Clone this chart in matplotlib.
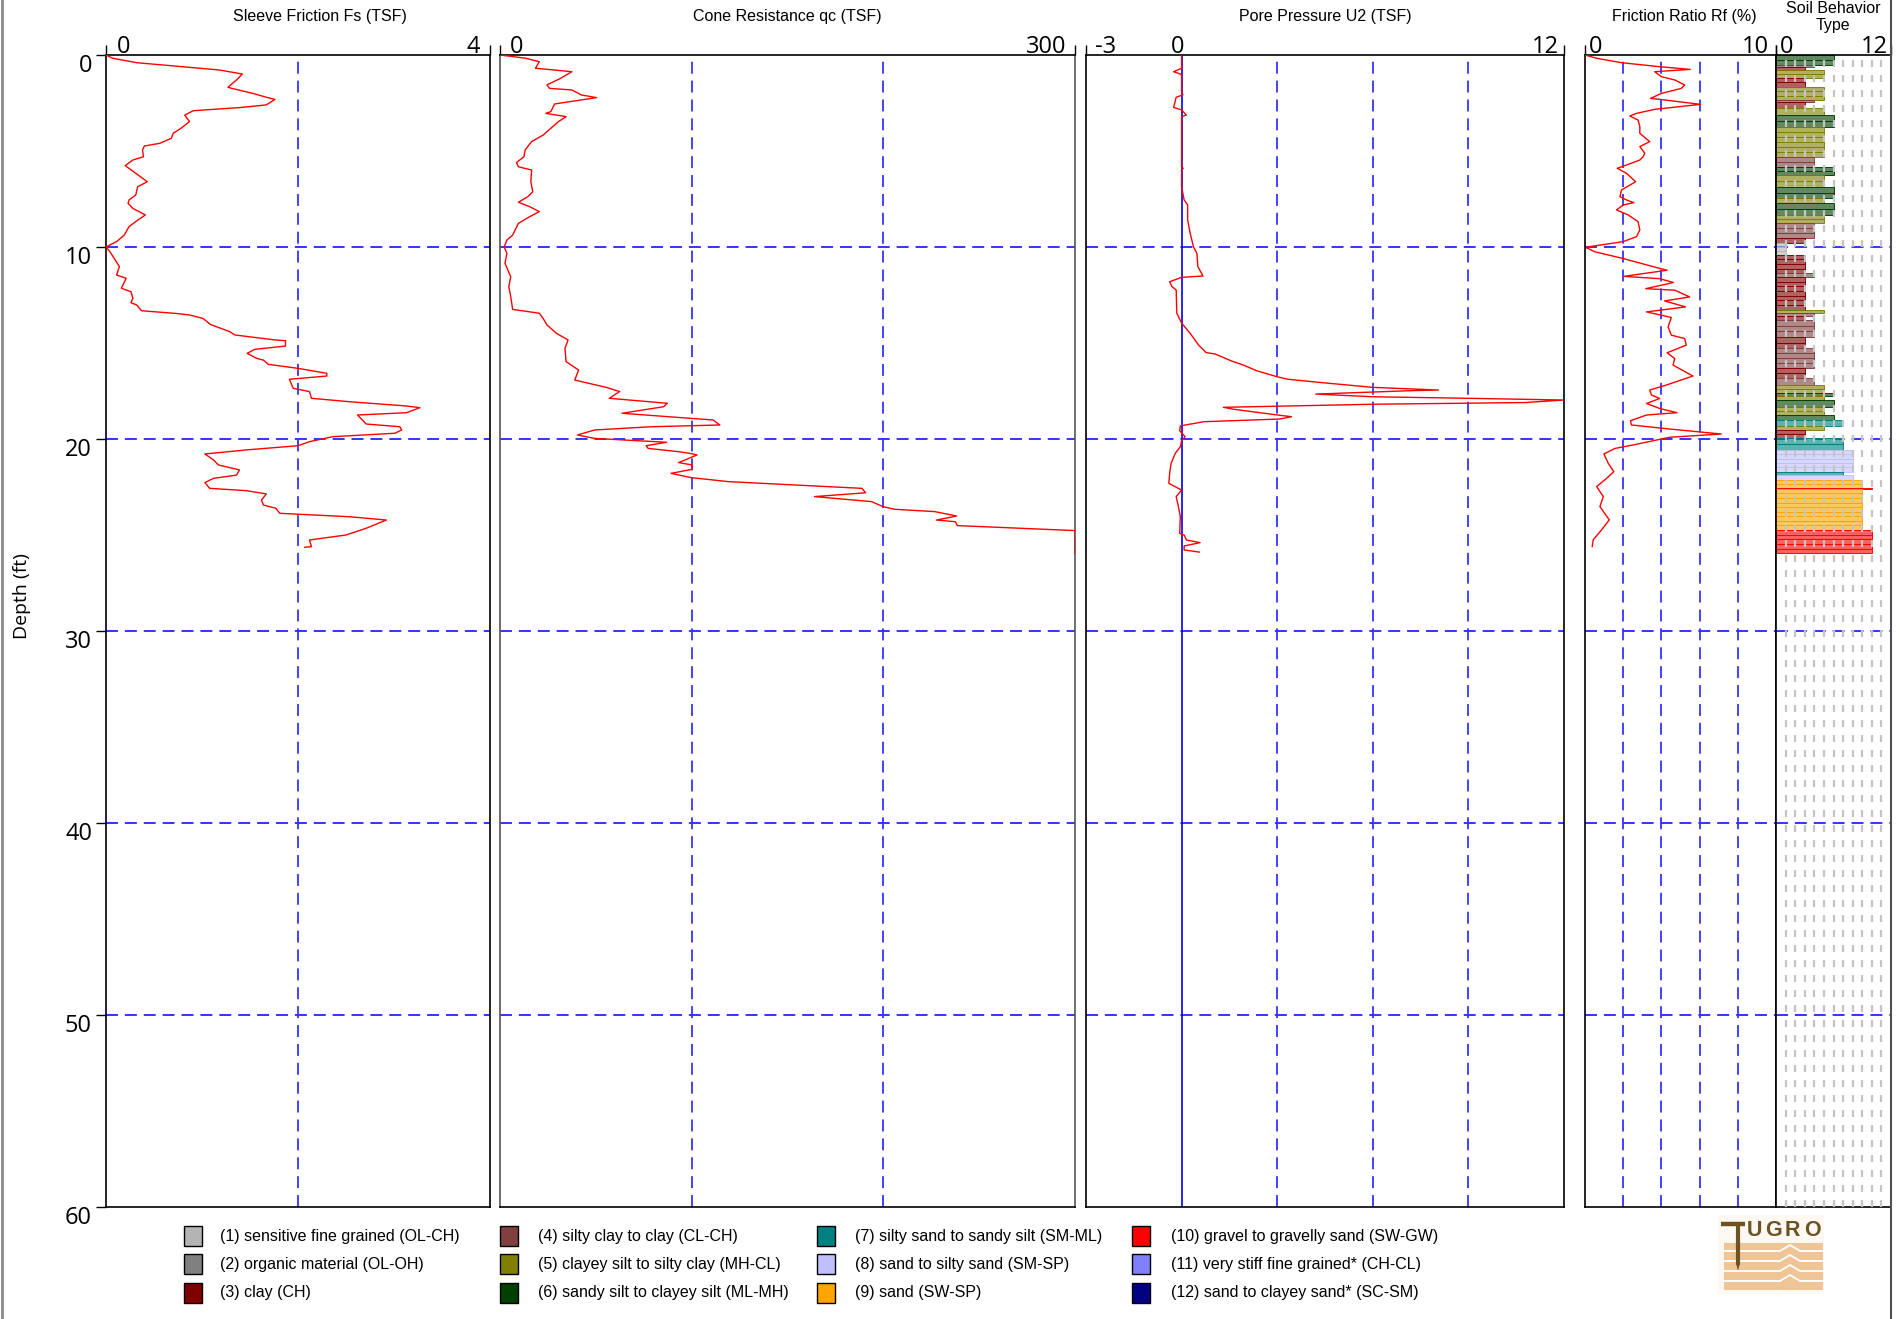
import numpy as np
import matplotlib
matplotlib.use("Agg")
import matplotlib.pyplot as plt
from matplotlib.colors import to_rgba
from matplotlib.lines import Line2D
from matplotlib.patches import Rectangle, Polygon
from matplotlib.transforms import ScaledTranslation

plt.rcParams['lines.scale_dashes'] = False

# ---------------------------------------------------------------- data
# Sleeve friction fs (TSF) vs depth (ft)
fs_depth = [0.00, 0.17, 0.40, 0.78, 0.99, 1.30, 1.68, 1.75, 2.00, 2.20, 2.31, 2.60, 2.74, 2.90,
            3.13, 3.47, 3.82, 4.08, 4.34, 4.60, 4.74, 4.95, 5.30, 5.47, 5.76, 6.16, 6.60, 6.86,
            7.29, 7.55, 7.73, 7.99, 8.33, 8.60, 8.94, 9.38, 9.72, 10.00, 10.24, 11.02, 11.46,
            11.63, 12.15, 12.33, 12.67, 12.90, 13.02, 13.32, 13.46, 13.54, 13.72, 14.04, 14.41,
            14.58, 14.84, 14.88, 15.16, 15.33, 15.54, 15.80, 15.89, 16.11, 16.32, 16.58, 16.72,
            16.89, 17.36, 17.53, 17.88, 18.06, 18.28, 18.37, 18.63, 18.75, 19.22, 19.36, 19.53,
            19.70, 19.88, 20.14, 20.35, 20.57, 20.78, 21.09, 21.35, 21.61, 21.88, 22.05, 22.27,
            22.57, 22.69, 22.86, 23.18, 23.44, 23.61, 23.87, 24.05, 24.22, 24.65, 25.00, 25.26,
            25.61, 25.64]
fs_value = [0.00, 0.07, 0.32, 1.18, 1.42, 1.36, 1.27, 1.32, 1.53, 1.67, 1.76, 1.67, 1.39, 0.91,
            0.82, 0.87, 0.78, 0.70, 0.68, 0.56, 0.40, 0.38, 0.39, 0.28, 0.20, 0.31, 0.43, 0.33,
            0.31, 0.24, 0.23, 0.28, 0.41, 0.33, 0.24, 0.19, 0.11, 0.00, 0.04, 0.14, 0.11,
            0.21, 0.16, 0.26, 0.28, 0.26, 0.32, 0.37, 0.73, 0.87, 1.01, 1.09, 1.29,
            1.34, 1.76, 1.87, 1.87, 1.55, 1.47, 1.57, 1.64, 1.69, 2.00, 2.30, 2.30,
            1.91, 1.95, 2.12, 2.14, 2.54, 3.13, 3.27, 3.13, 2.62, 2.71, 3.06, 3.08,
            3.01, 2.36, 2.12, 2.00, 1.46, 1.03, 1.12, 1.17, 1.39, 1.36, 1.12, 1.03,
            1.08, 1.46, 1.67, 1.62, 1.64, 1.77, 1.81, 2.54, 2.92, 2.71, 2.50, 2.12,
            2.14, 2.07]

# Cone resistance qc (TSF) vs depth (ft)
qc_depth = [0.00, 0.17, 0.35, 0.69, 0.87, 1.22, 1.56, 1.74, 1.82, 2.08, 2.22, 2.34, 2.55, 2.95,
            3.04, 3.21, 3.47, 3.82, 4.17, 4.51, 4.95, 5.30, 5.60, 5.82, 5.99, 6.60, 7.12, 7.38,
            7.67, 7.90, 8.16, 8.42, 8.77, 9.38, 9.64, 10.00, 10.33, 10.85, 11.55, 12.07, 12.59,
            13.25, 13.45, 13.72, 14.06, 14.50, 14.84, 15.28, 15.97, 16.41, 16.93, 17.31, 17.53,
            17.88, 18.14, 18.32, 18.66, 19.01, 19.27, 19.36, 19.53, 19.79, 19.97, 20.17, 20.35,
            20.49, 20.66, 20.75, 20.83, 21.23, 21.35, 21.58, 21.79, 22.01, 22.22, 22.57, 22.80,
            23.00, 23.26, 23.52, 23.66, 23.78, 24.01, 24.22, 24.31, 24.51, 24.77, 25.10, 25.50,
            25.95]
qc_value = [0.0, 13.5, 20.5, 18.5, 37.5, 31.5, 24.5, 25.9, 37.5, 42.4, 50.4, 42.4, 28.5, 26.5,
            23.9, 34.5, 30.5, 26.5, 22.5, 16.5, 13.1, 12.5, 8.6, 9.6, 16.5, 16.1, 17.1, 14.5,
            9.6, 15.5, 20.5, 15.5, 9.6, 6.6, 3.6, 2.2, 3.6, 2.6, 5.6, 4.6, 5.6,
            6.6, 20.5, 22.5, 24.5, 29.5, 35.5, 33.9, 34.5, 41.0, 39.0, 55.4, 62.4,
            57.0, 87.3, 85.3, 63.7, 111.2, 114.7, 79.3, 49.4, 40.4, 49.4, 86.9, 76.3,
            77.3, 93.2, 99.2, 102.8, 93.2, 100.2, 100.2, 89.2, 99.6, 119.1, 188.8, 190.8,
            164.1, 193.8, 199.8, 205.8, 226.7, 238.2, 227.7, 237.6, 238.6, 300.0, 325.0, 340.0,
            330.0]

# Pore pressure u2 (TSF) vs depth (ft)
u2_depth = [0.00, 0.69, 0.87, 0.99, 1.05, 1.91, 2.08, 2.20, 2.73, 2.86, 3.13, 3.21, 5.82, 5.90,
            5.99, 6.86, 7.55, 7.81, 8.59, 9.29, 10.00, 10.33, 11.02, 11.51, 11.58, 11.81, 12.07,
            12.24, 13.45, 13.96, 14.50, 15.10, 15.50, 15.57, 15.94, 16.15, 16.44, 16.75, 16.89,
            17.07, 17.31, 17.45, 17.48, 17.66, 17.80, 17.88, 17.97, 18.10, 18.19, 18.35, 18.45,
            18.75, 18.84, 18.96, 19.10, 19.32, 19.57, 19.88, 20.09, 20.40, 20.75, 21.27, 21.79,
            22.31, 22.66, 23.00, 23.52, 24.05, 24.91, 25.00, 25.26, 25.40, 25.57, 25.78, 25.89]
u2_value = [0.00, 0.00, -0.25, -0.04, 0.00, 0.00, 0.04, -0.17, -0.25, 0.00, 0.15, 0.00, 0.00, 0.05,
            0.00, 0.00, 0.08, 0.19, 0.19, 0.27, 0.375, 0.48, 0.51, 0.67, 0.00, -0.375, -0.30,
            -0.17, -0.15, 0.00, 0.27, 0.53, 0.77, 1.05, 1.57, 1.94, 2.35, 2.98, 3.34,
            4.44, 6.00, 8.06, 7.25, 4.21, 6.00, 9.00, 12.60, 10.79, 6.00, 1.31, 1.63,
            3.01, 3.45, 3.08, 0.69, -0.04, -0.06, 0.11, 0.00, -0.04, -0.20, -0.33, -0.375,
            -0.40, 0.00, -0.17, -0.10, -0.04, -0.06, 0.08, 0.15, 0.58, 0.08, 0.08, 0.56]

# Friction ratio Rf (%) vs depth (ft)
rf_depth = [0.00, 0.17, 0.40, 0.61, 0.75, 0.87, 1.13, 1.30, 1.56, 1.74, 2.00, 2.26, 2.31, 2.57,
            2.83, 3.04, 3.18, 3.39, 3.73, 4.08, 4.51, 4.77, 5.12, 5.30, 5.47, 5.73, 5.90, 6.16,
            6.60, 7.03, 7.38, 7.55, 7.69, 7.81, 8.07, 8.33, 8.68, 9.11, 9.46, 9.72, 9.98, 10.03,
            10.25, 10.60, 11.07, 11.21, 11.53, 11.65, 11.85, 12.17, 12.25, 12.60, 12.81, 13.12,
            13.38, 13.67, 14.16, 14.59, 14.77, 15.11, 15.51, 15.81, 16.15, 16.72, 17.19, 17.45,
            17.71, 17.89, 18.15, 18.41, 18.63, 18.75, 19.05, 19.27, 19.48, 19.74, 19.91, 20.31,
            20.49, 20.78, 21.27, 21.70, 22.05, 22.48, 23.00, 23.52, 24.21, 24.73, 25.25, 25.60]
rf_value = [0.00, 0.61, 1.91, 3.91, 5.51, 3.65, 4.00, 4.70, 5.22, 5.04, 4.00, 3.43, 3.91, 6.05,
            3.65, 2.70, 2.35, 2.78, 2.87, 2.87, 3.39, 2.87, 3.13, 3.04, 2.87, 2.17, 1.69, 2.17,
            2.65, 1.91, 1.83, 2.17, 2.56, 2.00, 1.65, 2.26, 2.78, 2.87, 2.70, 2.00, 0.26, 0.05,
            0.52, 2.00, 3.74, 4.30, 2.03, 3.91, 4.63, 3.18, 4.70, 5.48, 4.17, 5.27,
            3.22, 4.52, 4.35, 4.52, 5.22, 5.30, 4.30, 4.70, 4.61, 5.65, 4.26, 3.39,
            3.48, 3.91, 3.22, 3.91, 4.82, 3.22, 2.38, 2.43, 4.43, 7.13, 4.43, 2.52,
            1.57, 0.99, 1.22, 1.51, 1.13, 0.61, 0.96, 0.78, 1.27, 0.87, 0.43, 0.38]

# Soil behaviour type zones by depth interval (ft)
sbt_top = [0.00, 0.50, 0.60, 0.78, 1.20, 1.65, 2.35, 2.45, 2.78, 3.13, 3.73, 5.30, 5.82, 6.25,
           6.86, 7.47, 7.73, 8.33, 8.77, 9.55, 9.77, 10.40, 11.37, 11.55, 13.28, 13.45, 13.60,
           13.80, 14.67, 15.28, 16.32, 16.84, 17.19, 17.60, 17.75, 17.97, 18.32, 18.75, 19.01,
           19.30, 19.53, 19.97, 20.57, 21.70, 21.87, 22.13, 22.55, 22.60, 24.73]
sbt_bot = [0.50, 0.60, 0.78, 1.20, 1.65, 2.35, 2.45, 2.78, 3.13, 3.73, 5.30, 5.82, 6.25, 6.86,
           7.47, 7.73, 8.33, 8.77, 9.55, 9.77, 10.40, 11.37, 11.55, 13.28, 13.45, 13.60, 13.80,
           14.67, 15.28, 16.32, 16.84, 17.19, 17.60, 17.75, 17.97, 18.32, 18.75, 19.01, 19.30,
           19.53, 19.97, 20.57, 21.70, 21.87, 22.13, 22.55, 22.60, 24.73, 25.95]
sbt_zone = [6, 4, 3, 5, 3, 5, 4, 3, 5, 6, 5, 4, 6, 5,
            6, 5, 6, 5, 4, 3, 1, 3, 4, 3, 5, 4, 3,
            4, 3, 4, 3, 4, 5, 6, 5, 6, 5, 6, 7,
            5, 3, 7, 8, 7, 8, 9, 10, 9, 10]

zone_colors = ['#b4b4b4', '#808080', '#800000', '#804040', '#808000', '#004000',
               '#008080', '#c0c0ff', '#ffa500', '#ff0000', '#8080ff', '#000080']
zone_labels = ['(1) sensitive fine grained (OL-CH)', '(2) organic material (OL-OH)',
               '(3) clay (CH)', '(4) silty clay to clay (CL-CH)',
               '(5) clayey silt to silty clay (MH-CL)', '(6) sandy silt to clayey silt (ML-MH)',
               '(7) silty sand to sandy silt (SM-ML)', '(8) sand to silty sand (SM-SP)',
               '(9) sand (SW-SP)', '(10) gravel to gravelly sand (SW-GW)',
               '(11) very stiff fine grained* (CH-CL)', '(12) sand to clayey sand* (SC-SM)']

depth_ticks = [0, 10, 20, 30, 40, 50, 60]

# ---------------------------------------------------------------- layout
W, H, DPI = 1900, 1319, 100
TOP, BOT = 55, 1207
TICK_FONT = 'Open Sans'
TEXT_FONT = 'Liberation Sans'
GRID_BLUE = '#3434ff'

fig = plt.figure(figsize=(W / DPI, H / DPI), dpi=DPI)
fig.patch.set_facecolor('white')


def shift(dx, dy):
    return ScaledTranslation(dx / DPI, dy / DPI, fig.dpi_scale_trans)


def add_panel(x0, x1):
    return fig.add_axes([x0 / W, 1 - BOT / H, (x1 - x0) / W, (BOT - TOP) / H])


panels = [
    dict(x=(106, 490), lim=(0, 4), grid=[2], title='Sleeve Friction Fs (TSF)', tx=320,
         labels=[(0, 'left', 11), (4, 'right', -10)]),
    dict(x=(500, 1075), lim=(0, 300), grid=[100, 200], title='Cone Resistance qc (TSF)', tx=787,
         labels=[(0, 'left', 10), (300, 'right', -9)]),
    dict(x=(1086, 1564), lim=(-3, 12), grid=[3, 6, 9], title='Pore Pressure U2 (TSF)', tx=1325,
         labels=[(-3, 'left', 9), (0, 'center', -4), (12, 'right', -5)]),
    dict(x=(1585, 1776), lim=(0, 10), grid=[2, 4, 6, 8], title='Friction Ratio Rf (%)', tx=1684,
         labels=[(0, 'left', 4), (10, 'right', -7)]),
    dict(x=(1776, 1891), lim=(0, 12), grid=[], title='Soil Behavior\nType', tx=1833,
         labels=[(0, 'left', 4), (12, 'right', -3)]),
]

axes = []
for p in panels:
    ax = add_panel(*p['x'])
    lo, hi = p['lim']
    ax.set_xlim(lo, hi)
    ax.set_ylim(60, 0)
    ax.set_xticks([lo, hi])
    ax.tick_params(axis='x', top=True, bottom=False, labeltop=False, labelbottom=False,
                   length=7.2, width=1.0, direction='out', color='black')
    ax.set_yticks([])
    for s in ax.spines.values():
        s.set_color('black')
        s.set_linewidth(1.2)
    for d in depth_ticks[1:-1]:
        ax.axhline(d, color=GRID_BLUE, lw=1.4, dashes=(8.6, 5.0), zorder=1)
    for g in p['grid']:
        ax.axvline(g, color=GRID_BLUE, lw=1.3, dashes=(8.6, 5.0), zorder=1)
    for val, ha, dx in p['labels']:
        ax.text(val, 1.0, str(val), transform=ax.get_xaxis_transform() + shift(dx, 2),
                ha=ha, va='baseline', fontfamily=TICK_FONT, fontsize=17)
    fig.text(p['tx'] / W, 1 - 17 / H, p['title'], ha='center', va='center',
             fontfamily=TEXT_FONT, fontsize=11.5, linespacing=1.2)
    axes.append(ax)

ax_fs, ax_qc, ax_u2, ax_rf, ax_sbt = axes
for side in ('left', 'right'):
    ax_qc.spines[side].set_color('#555555')

# depth axis on the first panel
ax_fs.set_yticks(depth_ticks)
ax_fs.tick_params(axis='y', left=True, labelleft=False, length=7.2, width=1.0, direction='out')
for d in depth_ticks:
    ax_fs.text(0, d, str(d), transform=ax_fs.get_yaxis_transform() + shift(-14, -11),
               ha='right', va='center', fontfamily=TICK_FONT, fontsize=17)
fig.text(22 / W, 1 - 596 / H, 'Depth (ft)', rotation=90, ha='center', va='center',
         fontfamily=TICK_FONT, fontsize=14)

# cone traces
ax_fs.plot(np.clip(fs_value, 0, 4), fs_depth, color='red', lw=1.0, zorder=3)
ax_qc.plot(np.clip(qc_value, 0, 300), qc_depth, color='red', lw=1.0, zorder=3)
ax_u2.axvline(0, color='#0000ff', lw=1.2, zorder=2)
ax_u2.plot(np.clip(u2_value, -3, 12), u2_depth, color='red', lw=1.0, zorder=3)
ax_rf.plot(np.clip(rf_value, 0, 10), rf_depth, color='red', lw=1.0, zorder=3)

# soil behaviour type bars, one thin bar per sample row
for top, bot, zone in zip(sbt_top, sbt_bot, sbt_zone):
    n = max(1, int(round((bot - top) / 0.25)))
    edges = np.linspace(top, bot, n + 1)
    c = zone_colors[zone - 1]
    ax_sbt.barh(edges[:-1], zone, height=np.diff(edges), align='edge',
                facecolor=to_rgba(c, 0.62), edgecolor=to_rgba(c, 0.95),
                linewidth=0.7, zorder=2)
for k in range(1, 12):
    ax_sbt.axvline(k, color='#c4c4c4', lw=1.6, dashes=(5.0, 5.8), zorder=3)

# legend of soil zones
col_patch_x = [193, 509, 826, 1141]
col_text_x = [220, 538, 855, 1171]
row_y = [1236, 1264, 1293]
for i, (c, lab) in enumerate(zip(zone_colors, zone_labels)):
    col, row = divmod(i, 3)
    cx, cy = col_patch_x[col], row_y[row]
    fig.add_artist(Rectangle(((cx - 9) / W, 1 - (cy + 10) / H), 18 / W, 20 / H,
                             transform=fig.transFigure, facecolor=c,
                             edgecolor='black', linewidth=1.0))
    fig.text(col_text_x[col] / W, 1 - cy / H, lab, ha='left', va='center',
             fontfamily=TEXT_FONT, fontsize=11.5)

# company logo
lg = fig.add_axes([1716 / W, 1 - 1296 / H, 110 / W, 83 / H])
lg.set_xlim(0, 110)
lg.set_ylim(83, 0)
lg.axis('off')
lg.add_patch(Rectangle((2, 2), 106, 79, facecolor='#fdf8f2', edgecolor='none'))
lg.add_patch(Rectangle((8, 30), 99, 47, facecolor='#efc597', edgecolor='none'))
for yy in (38, 48, 58, 68):
    lg.plot([8, 64, 74, 84, 107], [yy, yy, yy - 6, yy, yy], color='white', lw=1.3)
brown = '#6b5324'
lg.plot([5, 29], [11, 11], color=brown, lw=3.2, solid_capstyle='butt')
lg.plot([22, 22], [11, 52], color=brown, lw=3.0, solid_capstyle='butt')
lg.add_patch(Polygon([[20.5, 52], [23.5, 52], [22, 58]], closed=True, facecolor=brown,
                     edgecolor='none'))
for xx, ch in zip((38, 57, 76, 96), 'UGRO'):
    lg.text(xx, 18, ch, ha='center', va='center', color=brown, fontsize=15.5,
            fontweight='bold', fontfamily=TEXT_FONT)

# page border lines
fig.add_artist(Line2D([1.5 / W, 1.5 / W], [0, 1], transform=fig.transFigure,
                      color='#8a8a8a', lw=2))
fig.add_artist(Line2D([1891 / W, 1891 / W], [0, 1], transform=fig.transFigure,
                      color='#505050', lw=1.5))

fig.savefig('out.png', dpi=DPI)
